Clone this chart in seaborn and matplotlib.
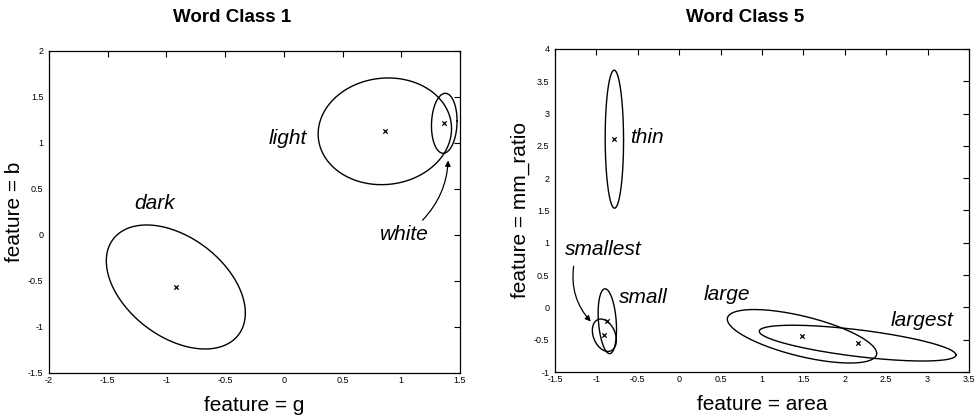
import numpy as np
import pandas as pd
import seaborn as sns
import matplotlib.pyplot as plt

# word class 1 : colour words (feature g vs feature b)
wc1_names = ["dark", "light", "white"]
wc1_cx = [-0.92, 0.86, 1.366]
wc1_cy = [-0.565, 1.127, 1.214]
wc1_sx = [0.592, 0.568, 0.109]
wc1_sy = [0.674, 0.580, 0.326]
wc1_rho = [-0.42, 0.05, 0.08]
wc1_label_x = [-1.10, 0.03, 1.03]
wc1_label_y = [0.34, 1.05, 0.00]

# word class 5 : size / shape words (feature area vs feature mm_ratio)
wc5_names = ["thin", "small", "smallest", "large", "largest"]
wc5_cx = [-0.783, -0.868, -0.904, 1.483, 2.155]
wc5_cy = [2.604, -0.214, -0.431, -0.447, -0.553]
wc5_sx = [0.111, 0.111, 0.145, 0.902, 1.188]
wc5_sy = [1.068, 0.502, 0.251, 0.414, 0.277]
wc5_rho = [-0.02, -0.25, -0.30, -0.64, -0.66]
wc5_label_x = [-0.39, -0.43, -0.92, 0.58, 2.93]
wc5_label_y = [2.635, 0.15, 0.89, 0.20, -0.20]

# arrows (tail at label, head at ellipse)
white_arrow = [(1.165, 0.14), (1.40, 0.84)]
smallest_arrow = [(-1.27, 0.68), (-1.045, -0.25)]


def ellipse_frame(names, cx, cy, sx, sy, rho):
    t = np.linspace(0, 2 * np.pi, 240)
    rows = []
    for n, x0, y0, a, b, r in zip(names, cx, cy, sx, sy, rho):
        xs = x0 + a * np.cos(t)
        ys = y0 + b * (r * np.cos(t) + np.sqrt(1 - r ** 2) * np.sin(t))
        rows.append(pd.DataFrame({"x": xs, "y": ys, "cls": n}))
    return pd.concat(rows, ignore_index=True)


def tick_fmt(v, pos):
    return f"{v:g}"


sns.set_style("white")
plt.rcParams["font.family"] = ["Liberation Sans", "DejaVu Sans"]
plt.rcParams["text.color"] = "black"
plt.rcParams["axes.labelcolor"] = "black"
plt.rcParams["xtick.color"] = "black"
plt.rcParams["ytick.color"] = "black"

fig = plt.figure(figsize=(9.77, 4.16), dpi=100)
ax1 = fig.add_axes([49 / 977, 1 - 373 / 416, 411 / 977, 322 / 416])
ax2 = fig.add_axes([555 / 977, 1 - 372 / 416, 414 / 977, 323 / 416])

panels = [
    (ax1, wc1_names, wc1_cx, wc1_cy, wc1_sx, wc1_sy, wc1_rho, wc1_label_x, wc1_label_y,
     (-2, 1.5), (-1.5, 2), np.arange(-2, 1.51, 0.5), np.arange(-1.5, 2.01, 0.5),
     "feature = g", "feature = b"),
    (ax2, wc5_names, wc5_cx, wc5_cy, wc5_sx, wc5_sy, wc5_rho, wc5_label_x, wc5_label_y,
     (-1.5, 3.5), (-1, 4), np.arange(-1.5, 3.51, 0.5), np.arange(-1, 4.01, 0.5),
     "feature = area", "feature = mm_ratio"),
]

for (ax, names, cx, cy, sx, sy, rho, lx, ly, xlim, ylim, xt, yt, xl, yl) in panels:
    df = ellipse_frame(names, cx, cy, sx, sy, rho)
    sns.lineplot(data=df, x="x", y="y", units="cls", estimator=None, sort=False,
                 color="black", lw=1.0, ax=ax, legend=False)
    centers = pd.DataFrame({"x": cx, "y": cy})
    sns.scatterplot(data=centers, x="x", y="y", marker="x", s=10, color="black",
                    linewidth=0.9, ax=ax, legend=False)
    for n, x, y in zip(names, lx, ly):
        ax.text(x, y, n, fontsize=15, style="italic", ha="center", va="center",
                color="black")
    ax.set_xlim(*xlim)
    ax.set_ylim(*ylim)
    ax.set_xticks(xt)
    ax.set_yticks(yt)
    ax.xaxis.set_major_formatter(plt.FuncFormatter(tick_fmt))
    ax.yaxis.set_major_formatter(plt.FuncFormatter(tick_fmt))
    ax.tick_params(direction="in", top=True, right=True, length=4, width=0.8,
                   labelsize=6.5, pad=2, color="black", labelcolor="black")
    ax.tick_params(axis="y", pad=4)
    for sp in ax.spines.values():
        sp.set_color("black")
        sp.set_linewidth(0.9)
    ax.set_xlabel(xl, fontsize=15, labelpad=8, color="black")
    ax.set_ylabel(yl, fontsize=15, labelpad=3, color="black")

arrow_style = dict(arrowstyle="-|>", color="black", lw=0.9, mutation_scale=8)
ax1.annotate("", xy=white_arrow[1], xytext=white_arrow[0],
             arrowprops=dict(connectionstyle="arc3,rad=0.2", **arrow_style))
ax2.annotate("", xy=smallest_arrow[1], xytext=smallest_arrow[0],
             arrowprops=dict(connectionstyle="arc3,rad=0.25", **arrow_style))

fig.text(232 / 977, 1 - 17 / 416, "Word Class 1", fontsize=13.5, weight="bold",
         ha="center", va="center", color="black")
fig.text(745 / 977, 1 - 17 / 416, "Word Class 5", fontsize=13.5, weight="bold",
         ha="center", va="center", color="black")

fig.savefig("out.png", dpi=100)
